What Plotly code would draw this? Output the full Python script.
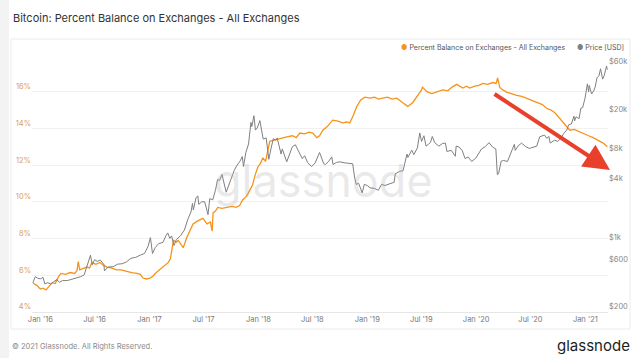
import plotly.graph_objects as go

# ---------------- data ----------------
pct_dates = ["2015-12-07", "2015-12-14", "2015-12-20", "2016-01-01", "2016-01-10", "2016-01-20", "2016-02-01",
             "2016-02-10", "2016-02-20", "2016-03-01", "2016-03-10", "2016-03-25", "2016-04-10", "2016-04-25",
             "2016-05-03", "2016-05-07", "2016-05-12", "2016-05-20", "2016-06-05", "2016-06-14", "2016-06-22",
             "2016-07-05", "2016-07-19", "2016-07-30", "2016-08-11", "2016-08-25", "2016-09-13", "2016-09-28",
             "2016-10-18", "2016-11-02", "2016-11-20", "2016-12-01", "2016-12-10", "2016-12-22", "2017-01-03",
             "2017-01-12", "2017-01-20", "2017-02-05", "2017-02-16", "2017-03-05", "2017-03-12", "2017-03-18",
             "2017-03-22", "2017-04-01", "2017-04-07", "2017-04-16", "2017-04-24", "2017-05-07", "2017-05-16",
             "2017-05-27", "2017-06-10", "2017-06-29", "2017-07-13", "2017-07-24", "2017-07-30", "2017-08-02",
             "2017-08-10", "2017-08-18", "2017-09-01", "2017-09-17", "2017-10-05", "2017-10-18", "2017-10-30",
             "2017-11-09", "2017-11-22", "2017-12-02", "2017-12-12", "2017-12-20", "2017-12-30", "2018-01-08",
             "2018-01-16", "2018-01-25", "2018-02-03", "2018-02-08", "2018-02-20", "2018-03-03", "2018-03-24",
             "2018-04-10", "2018-04-25", "2018-05-08", "2018-05-20", "2018-06-05", "2018-06-20", "2018-07-02",
             "2018-07-16", "2018-07-25", "2018-08-05", "2018-08-20", "2018-09-07", "2018-09-25", "2018-10-10",
             "2018-10-24", "2018-11-03", "2018-11-15", "2018-11-27", "2018-12-10", "2018-12-24", "2019-01-10",
             "2019-01-25", "2019-02-08", "2019-02-22", "2019-03-10", "2019-03-25", "2019-04-10", "2019-04-30",
             "2019-05-17", "2019-06-02", "2019-06-18", "2019-07-02", "2019-07-05", "2019-07-20", "2019-08-05",
             "2019-08-22", "2019-09-11", "2019-09-28", "2019-10-12", "2019-10-28", "2019-11-17", "2019-11-30",
             "2019-12-10", "2019-12-28", "2020-01-10", "2020-01-23", "2020-02-08", "2020-02-26", "2020-03-08",
             "2020-03-13", "2020-03-20", "2020-03-30", "2020-04-12", "2020-04-28", "2020-05-16", "2020-06-02",
             "2020-06-18", "2020-07-05", "2020-07-25", "2020-08-10", "2020-08-24", "2020-09-08", "2020-09-21",
             "2020-10-05", "2020-10-18", "2020-10-30", "2020-11-10", "2020-11-25", "2020-12-14", "2020-12-30",
             "2021-01-12", "2021-01-27", "2021-02-12", "2021-03-02", "2021-03-16"]
pct_values = [5.58, 5.5, 5.45, 5.25, 5.3, 5.2, 5.45,
              5.6, 5.55, 5.9, 6.1, 6.05, 6.15, 6.1,
              6.25, 6.75, 6.3, 6.35, 6.45, 6.4, 6.7,
              6.6, 6.7, 6.55, 6.45, 6.4, 6.3, 6.3,
              6.2, 6.15, 6.1, 6.05, 5.85, 5.8, 5.85,
              5.95, 6.1, 6.3, 6.45, 6.7, 6.9, 7.4,
              7.9, 7.8, 7.9, 7.7, 7.5, 8.1, 8.4,
              8.8, 8.95, 9.1, 8.8, 8.9, 8.4, 9.4,
              9.5, 9.7, 9.65, 9.7, 9.75, 9.7, 9.8,
              10.1, 10.3, 10.6, 10.9, 11.4, 11.9, 12.1,
              12.4, 12.2, 12.9, 13.3, 13.35, 13.4, 13.5,
              13.55, 13.6, 13.5, 13.75, 13.7, 13.8, 13.75,
              13.5, 13.6, 13.9, 14.1, 14.45, 14.4, 14.3,
              14.35, 14.3, 14.7, 15.2, 15.55, 15.7, 15.65,
              15.7, 15.6, 15.65, 15.7, 15.6, 15.65, 15.4,
              15.2, 15.4, 15.75, 16.1, 16.25, 16.0, 15.9,
              16.0, 16.1, 16.05, 16.25, 16.4, 16.2, 16.3,
              16.2, 16.3, 16.35, 16.45, 16.4, 16.5, 16.45,
              16.75, 16.25, 16.1, 15.98, 15.9, 15.8, 15.75,
              15.65, 15.5, 15.4, 15.3, 15.1, 15.0, 14.85,
              14.6, 14.35, 14.1, 13.9, 13.95, 13.8, 13.7,
              13.6, 13.5, 13.35, 13.2, 13.0]

price_dates = ["2015-12-07", "2015-12-15", "2015-12-22", "2016-01-01", "2016-01-10", "2016-01-16", "2016-01-25",
               "2016-02-05", "2016-02-15", "2016-02-25", "2016-03-05", "2016-03-15", "2016-04-01", "2016-04-15",
               "2016-05-01", "2016-05-15", "2016-05-27", "2016-06-05", "2016-06-12", "2016-06-17", "2016-06-23",
               "2016-07-01", "2016-07-10", "2016-07-20", "2016-08-01", "2016-08-03", "2016-08-15", "2016-09-01",
               "2016-09-15", "2016-10-01", "2016-10-15", "2016-10-28", "2016-11-05", "2016-11-15", "2016-12-01",
               "2016-12-15", "2016-12-27", "2017-01-04", "2017-01-11", "2017-01-20", "2017-02-01", "2017-02-15",
               "2017-02-25", "2017-03-03", "2017-03-10", "2017-03-16", "2017-03-24", "2017-04-01", "2017-04-15",
               "2017-04-28", "2017-05-10", "2017-05-20", "2017-05-25", "2017-05-28", "2017-06-06", "2017-06-12",
               "2017-06-15", "2017-06-25", "2017-07-05", "2017-07-16", "2017-07-22", "2017-08-01", "2017-08-10",
               "2017-08-17", "2017-08-24", "2017-09-01", "2017-09-15", "2017-09-22", "2017-10-01", "2017-10-12",
               "2017-10-20", "2017-11-01", "2017-11-08", "2017-11-12", "2017-11-20", "2017-11-29", "2017-12-07",
               "2017-12-10", "2017-12-17", "2017-12-22", "2017-12-28", "2018-01-06", "2018-01-12", "2018-01-17",
               "2018-01-27", "2018-02-05", "2018-02-12", "2018-02-20", "2018-03-01", "2018-03-05", "2018-03-18",
               "2018-03-22", "2018-04-06", "2018-04-15", "2018-04-25", "2018-05-05", "2018-05-15", "2018-05-28",
               "2018-06-05", "2018-06-15", "2018-06-28", "2018-07-10", "2018-07-25", "2018-08-08", "2018-08-14",
               "2018-08-25", "2018-09-04", "2018-09-08", "2018-09-20", "2018-10-01", "2018-10-15", "2018-11-01",
               "2018-11-13", "2018-11-20", "2018-11-25", "2018-12-03", "2018-12-15", "2018-12-22", "2019-01-01",
               "2019-01-10", "2019-01-25", "2019-02-07", "2019-02-18", "2019-03-01", "2019-03-15", "2019-04-01",
               "2019-04-05", "2019-04-20", "2019-05-01", "2019-05-14", "2019-05-17", "2019-05-30", "2019-06-06",
               "2019-06-18", "2019-06-26", "2019-07-02", "2019-07-10", "2019-07-17", "2019-07-25", "2019-08-01",
               "2019-08-07", "2019-08-15", "2019-08-29", "2019-09-10", "2019-09-20", "2019-09-25", "2019-10-10",
               "2019-10-23", "2019-10-26", "2019-11-05", "2019-11-15", "2019-11-25", "2019-12-05", "2019-12-17",
               "2019-12-31", "2020-01-10", "2020-01-19", "2020-02-01", "2020-02-13", "2020-02-25", "2020-03-07",
               "2020-03-12", "2020-03-16", "2020-03-25", "2020-04-02", "2020-04-15", "2020-04-30", "2020-05-08",
               "2020-05-11", "2020-05-20", "2020-06-01", "2020-06-15", "2020-06-27", "2020-07-10", "2020-07-22",
               "2020-08-01", "2020-08-17", "2020-08-25", "2020-09-01", "2020-09-05", "2020-09-20", "2020-10-01",
               "2020-10-10", "2020-10-21", "2020-10-31", "2020-11-06", "2020-11-15", "2020-11-24", "2020-11-26",
               "2020-12-01", "2020-12-11", "2020-12-17", "2020-12-23", "2020-12-31", "2021-01-08", "2021-01-12",
               "2021-01-14", "2021-01-22", "2021-01-29", "2021-02-03", "2021-02-09", "2021-02-16", "2021-02-21",
               "2021-02-28", "2021-03-05", "2021-03-13", "2021-03-16"]
price_values = [395, 455, 440, 432, 448, 385, 395,
                385, 405, 425, 400, 415, 416, 428,
                450, 455, 475, 575, 690, 750, 600,
                675, 650, 670, 605, 520, 570, 573,
                608, 615, 640, 690, 705, 712, 752,
                780, 920, 1130, 780, 895, 985, 1010,
                1180, 1260, 1110, 1175, 940, 1080, 1180,
                1350, 1750, 2050, 2500, 2150, 2870, 2980,
                2450, 2600, 2600, 1930, 2800, 2720, 3400,
                4350, 4300, 4900, 3250, 3650, 4400, 5400,
                6000, 6750, 7450, 5900, 8200, 10000, 16500,
                15000, 19300, 13800, 14500, 17200, 13900, 11200,
                11500, 7000, 8900, 11300, 10900, 11500, 7900,
                8900, 6600, 8000, 9400, 9800, 8500, 7100,
                7600, 6500, 5900, 6400, 8200, 6300, 6200,
                6700, 7400, 6200, 6500, 6600, 6450, 6350,
                6300, 4500, 3900, 4000, 3200, 3900, 3800,
                3600, 3550, 3400, 3900, 3800, 3900, 4100,
                5000, 5300, 5350, 7900, 7300, 8650, 7800,
                9100, 12900, 10600, 12100, 9500, 9900, 10400,
                11900, 10300, 9500, 10100, 10200, 8400, 8600,
                7500, 9500, 9300, 8600, 7100, 7400, 6650,
                7200, 8000, 8900, 9400, 10300, 9300, 8900,
                4900, 5000, 6700, 6800, 6650, 8650, 9900,
                8600, 9500, 10200, 9400, 9000, 9250, 9500,
                11800, 12300, 11400, 11900, 10200, 10900, 10600,
                11300, 12800, 13800, 15600, 15900, 19100, 17100,
                18800, 18000, 23000, 23300, 29000, 40500, 33500,
                39000, 32000, 34300, 37600, 46500, 49100, 57500,
                45200, 48800, 61200, 56300]

x_tick_vals = ["2016-01-01", "2016-07-01", "2017-01-01", "2017-07-01", "2018-01-01", "2018-07-01",
               "2019-01-01", "2019-07-01", "2020-01-01", "2020-07-01", "2021-01-01"]
x_tick_text = ["Jan '16", "Jul '16", "Jan '17", "Jul '17", "Jan '18", "Jul '18",
               "Jan '19", "Jul '19", "Jan '20", "Jul '20", "Jan '21"]
pct_tick_vals = [4, 6, 8, 10, 12, 14, 16, 18]
pct_tick_text = ["4%", "6%", "8%", "10%", "12%", "14%", "16%", ""]
price_tick_vals = [200, 600, 1000, 4000, 8000, 20000, 60000]
price_tick_text = ["$200", "$600", "$1k", "$4k", "$8k", "$20k", "$60k"]

ORANGE = "#f7931a"
GREY = "#808080"
FONT = "Inter"

fig = go.Figure()
fig.add_trace(go.Scatter(x=price_dates, y=price_values, mode="lines", yaxis="y2",
                         line=dict(color=GREY, width=1), name="Price [USD]", showlegend=False))
fig.add_trace(go.Scatter(x=pct_dates, y=pct_values, mode="lines", yaxis="y",
                         line=dict(color=ORANGE, width=1.3),
                         name="Percent Balance on Exchanges - All Exchanges", showlegend=False))

W, H = 640, 358
L, R, T, B = 32, 32, 55, 46
pw, ph = W - L - R, H - T - B


def px(xp):
    return (xp - L) / pw


def py(yp):
    return (H - B - yp) / ph


annotations = [
    dict(text="Bitcoin: Percent Balance on Exchanges - All Exchanges", x=px(11), y=py(18),
         xref="paper", yref="paper", xanchor="left", yanchor="middle", showarrow=False,
         font=dict(family=FONT, size=11, color="#333333")),
    dict(text=f"<span style='color:{ORANGE}'>●</span> Percent Balance on Exchanges - All Exchanges"
              f"      <span style='color:{GREY}'>●</span> Price [USD]",
         x=px(626), y=py(47), xref="paper", yref="paper", xanchor="right", yanchor="middle",
         showarrow=False, font=dict(family=FONT, size=7, color="#555555")),
    dict(text="glassnode", x=px(323), y=py(180), xref="paper", yref="paper",
         xanchor="center", yanchor="middle", showarrow=False,
         font=dict(family=FONT, size=45, color="rgba(170,170,170,0.26)")),
    dict(text="© 2021 Glassnode. All Rights Reserved.", x=px(10), y=py(346),
         xref="paper", yref="paper", xanchor="left", yanchor="middle", showarrow=False,
         font=dict(family=FONT, size=7.5, color="#8a8a8a")),
    dict(text="glassnode", x=px(632), y=py(345), xref="paper", yref="paper",
         xanchor="right", yanchor="middle", showarrow=False,
         font=dict(family=FONT, size=15, color="#1e1e1e")),
    dict(text="", x=px(610), y=py(170), xref="paper", yref="paper",
         ax=493 - 610, ay=93 - 170, axref="pixel", ayref="pixel",
         showarrow=True, arrowhead=2, arrowsize=1.3, arrowwidth=4, arrowcolor="#e8402a"),
]

shapes = [
    dict(type="rect", xref="paper", yref="paper", x0=px(0), x1=px(9), y0=py(H), y1=py(0),
         fillcolor="#f3f3f3", line=dict(width=0), layer="below"),
    dict(type="rect", xref="paper", yref="paper", x0=px(11), x1=px(630), y0=py(329), y1=py(39),
         fillcolor="rgba(0,0,0,0)", line=dict(color="#ececec", width=1), layer="below"),
]

fig.update_layout(
    width=W, height=H,
    margin=dict(l=L, r=R, t=T, b=B),
    paper_bgcolor="white", plot_bgcolor="white",
    font=dict(family=FONT, size=8, color="#777777"),
    showlegend=False,
    xaxis=dict(type="date", range=["2015-12-04", "2021-03-18"], tickvals=x_tick_vals,
               ticktext=x_tick_text, showgrid=False, showline=True, linecolor="#e6e6e6",
               linewidth=1, ticks="", zeroline=False, tickfont=dict(size=7.5, color="#777777")),
    yaxis=dict(range=[4, 18], tickvals=pct_tick_vals, ticktext=pct_tick_text,
               showgrid=True, gridcolor="#f0f0f0", gridwidth=1, zeroline=False,
               ticks="", ticklabelposition="outside top",
               tickfont=dict(size=7.5, color="#d99e5e")),
    yaxis2=dict(type="log", overlaying="y", side="right", range=[2.301, 4.899],
                tickvals=price_tick_vals, ticktext=price_tick_text, showgrid=False,
                zeroline=False, ticks="", ticklabelposition="outside top",
                tickfont=dict(size=7.5, color="#888888")),
    annotations=annotations,
    shapes=shapes,
)

fig.write_html("out.html", config={"displayModeBar": False},
               post_script="document.body.style.margin='0';")
